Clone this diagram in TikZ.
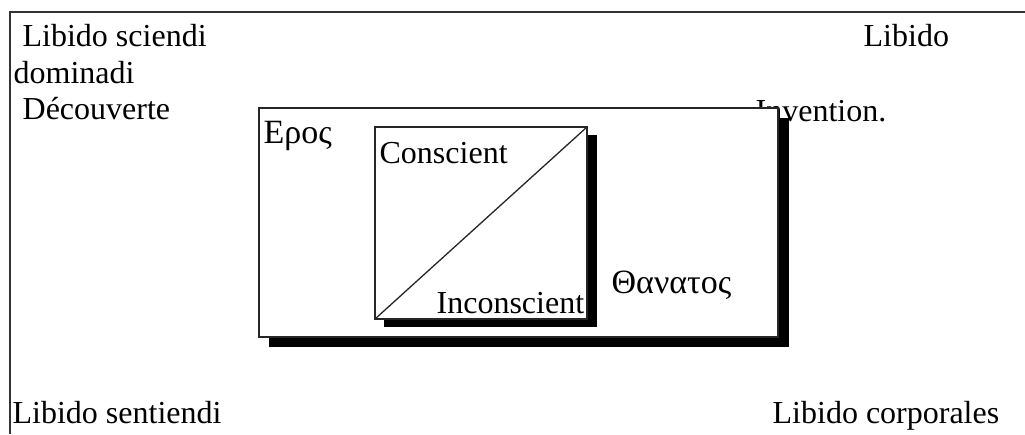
\documentclass[tikz,border=0pt]{standalone}
\usepackage{fontspec}
\setmainfont{Liberation Serif}

\begin{document}
\begin{tikzpicture}[
x=1pt, y=-1pt,
line width=1.3pt,
every node/.style={font=\fontsize{32}{36}\selectfont, anchor=base west, inner sep=0pt},
greek/.style={font=\fontsize{34}{38}\selectfont},
shade/.style={fill=black, draw=none},
panel/.style={fill=white, draw=black!85}
]
\useasboundingbox (0,0) rectangle (1025,434);

% open frame
\draw[black!80] (1025,12) -- (10,12) -- (10,434);

\node (sciendi) at (22,46) {Libido sciendi};
\node (dominadi) at (13,83) {dominadi};
\node (decouverte) at (22,119) {Découverte};
\node (libido) at (863,46) {Libido};
\node (invention) at (755,121) {Invention.};
\node (sentiendi) at (12,423) {Libido sentiendi};
\node (corporales) at (772,423) {Libido corporales};

% outer box with shadow
\fill[shade] (269,118) rectangle (789,347);
\draw[panel] (259,108) rectangle (778,337);
\node[greek] (eros) at (263,143) {Ερος};
\node[greek] (thanatos) at (611,293) {Θανατος};

% inner box with shadow
\fill[shade] (384,135) rectangle (597,327);
\draw[panel] (375,127) rectangle (587,319);
\coordinate (lowleft) at (375,319);
\coordinate (upright) at (587,127);
\draw[black!85] (lowleft) -- (upright);
\node (conscient) at (379,163) {Conscient};
\node (inconscient) at (436,313) {Inconscient};
\end{tikzpicture}
\end{document}
